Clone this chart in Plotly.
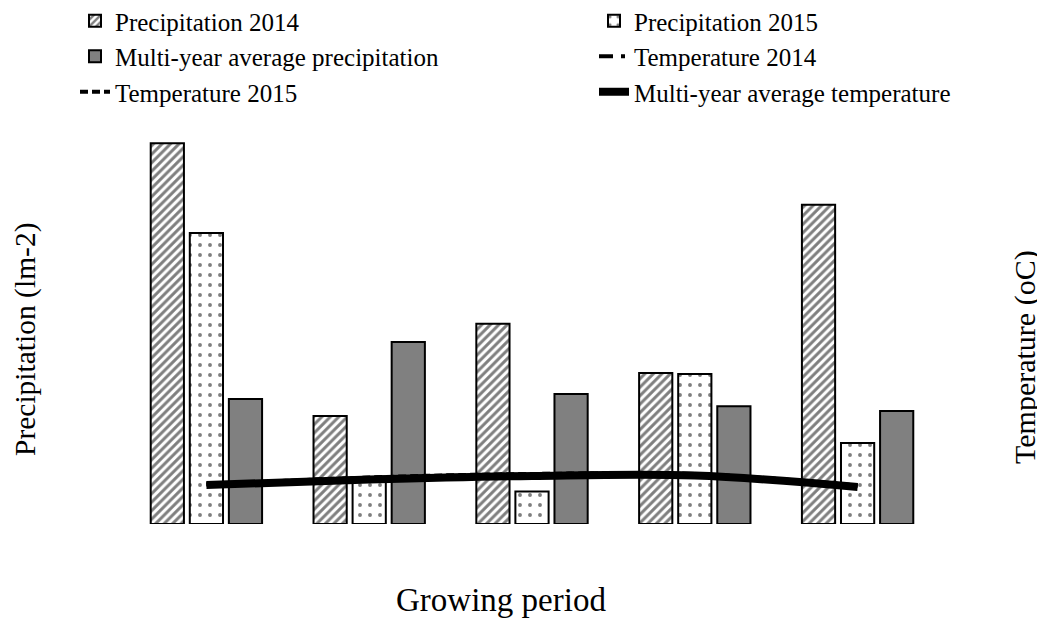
import plotly.graph_objects as go

categories = ["Period 1", "Period 2", "Period 3", "Period 4", "Period 5"]
precip_2014 = [116.0, 32.9, 61.0, 46.0, 97.2]
precip_2015 = [88.6, 12.8, 9.9, 45.7, 24.7]
precip_avg = [38.1, 55.4, 39.6, 35.9, 34.4]
temp_2014 = [10.1, 11.7, 12.6, 12.7, 9.7]
temp_2015 = [10.0, 11.8, 12.7, 12.6, 9.8]
temp_avg = [9.9, 11.3, 12.2, 12.3, 9.4]

FONT = "Liberation Serif, Times New Roman, serif"
W, H = 1037, 619
ML, MR, MT, MB = 117, 106, 122, 103
PW, PH = W - ML - MR, H - MT - MB

fig = go.Figure()
fig.add_trace(go.Bar(
    x=categories, y=precip_2014, name="Precipitation 2014", legend="legend",
    marker=dict(color="white", line=dict(color="black", width=2),
                pattern=dict(shape="/", fgcolor="black", bgcolor="white", size=6, solidity=0.5, fillmode="overlay")),
))
fig.add_trace(go.Bar(
    x=categories, y=precip_2015, name="Precipitation 2015", legend="legend2",
    marker=dict(color="white", line=dict(color="black", width=2),
                pattern=dict(shape=".", fgcolor="black", bgcolor="white", size=10, solidity=0.12, fillmode="overlay")),
))
fig.add_trace(go.Bar(
    x=categories, y=precip_avg, name="Multi-year average precipitation", legend="legend",
    marker=dict(color="#808080", line=dict(color="black", width=2)),
))
fig.add_trace(go.Scatter(
    x=categories, y=temp_2014, name="Temperature 2014", yaxis="y2", mode="lines", legend="legend2",
    line=dict(color="black", width=4, dash="14px,8px,4px,8px", shape="spline"),
))
fig.add_trace(go.Scatter(
    x=categories, y=temp_2015, name="Temperature 2015", yaxis="y2", mode="lines", legend="legend",
    line=dict(color="black", width=4, dash="8px,4px", shape="spline"),
))
fig.add_trace(go.Scatter(
    x=categories, y=temp_avg, name="Multi-year average temperature", yaxis="y2", mode="lines", legend="legend2",
    line=dict(color="black", width=8, shape="spline"),
))

legend_common = dict(
    orientation="v", xref="container", yref="paper",
    y=1.335, xanchor="left", yanchor="top",
    font=dict(family=FONT, size=25), traceorder="normal",
    itemwidth=30, tracegroupgap=0, bgcolor="rgba(0,0,0,0)",
)

axis_common = dict(showticklabels=False, ticks="", showline=False, showgrid=False, zeroline=False)

fig.update_layout(
    width=W, height=H,
    paper_bgcolor="white", plot_bgcolor="white",
    font=dict(family=FONT, size=25, color="black"),
    margin=dict(l=ML, r=MR, t=MT, b=MB, autoexpand=False),
    barmode="group", bargap=0.28, bargroupgap=0.15,
    showlegend=True,
    legend=dict(x=67 / W, **legend_common),
    legend2=dict(x=586 / W, **legend_common),
    xaxis=dict(**axis_common),
    yaxis=dict(range=[0, 120], **axis_common),
    yaxis2=dict(range=[0, 100], overlaying="y", side="right", **axis_common),
    annotations=[
        dict(text="Growing period", xref="paper", yref="paper",
             x=(493 - ML) / PW, y=1 - (592 - MT) / PH, xanchor="center", yanchor="middle",
             showarrow=False, font=dict(family=FONT, size=33)),
        dict(text="Precipitation (lm-2)", xref="paper", yref="paper", textangle=-90,
             x=(17 - ML) / PW, y=1 - (332 - MT) / PH, xanchor="center", yanchor="middle",
             showarrow=False, font=dict(family=FONT, size=29.5)),
        dict(text="Temperature (oC)", xref="paper", yref="paper", textangle=-90,
             x=(1017 - ML) / PW, y=1 - (349 - MT) / PH, xanchor="center", yanchor="middle",
             showarrow=False, font=dict(family=FONT, size=30)),
    ],
)

fig.write_html("out.html")
